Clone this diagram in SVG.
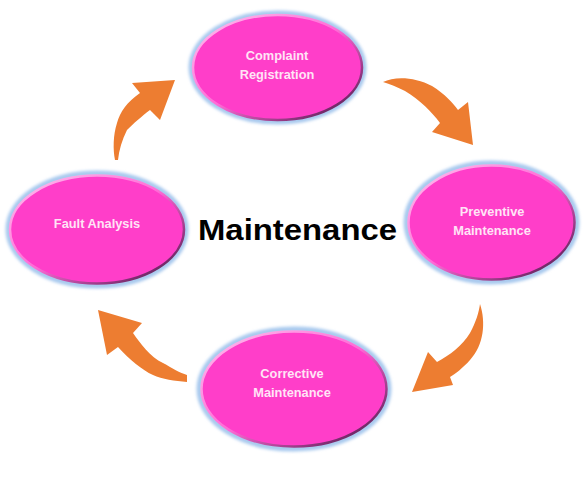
<svg xmlns="http://www.w3.org/2000/svg" width="584" height="481" viewBox="0 0 584 481">
<style>
.glow{fill:none;stroke:#a8c9ee;stroke-width:6;filter:url(#blur)}
.body{fill:#ff3ec9;stroke:url(#rim);stroke-width:2.5}
.lbl{font-family:"Liberation Sans",Arial,sans-serif;font-weight:bold;font-size:12.8px;fill:#ffe4f6;text-anchor:middle}
.arrow{fill:#ed7d31}
.title{font-family:"Liberation Sans",Arial,sans-serif;font-weight:bold;font-size:29px;fill:#000;text-anchor:middle}
</style>
<defs>
<filter id="blur" x="-20%" y="-20%" width="140%" height="140%"><feGaussianBlur stdDeviation="1.6"/></filter>
<linearGradient id="rim" x1="0" y1="0" x2="1" y2="1">
<stop offset="0" stop-color="#ffc4f0"/>
<stop offset="0.5" stop-color="#ff6ad6"/>
<stop offset="1" stop-color="#3a0f3c"/>
</linearGradient>
</defs>
<rect width="584" height="481" fill="#ffffff"/>
<g id="connectors">
<path class="arrow" d="M383,82 C395,76 415,77 432,86 C445,94 453,103 458,110 L468,102 L473,145 L432,132 L440,123 C432,112 420,100 405,91 C397,87 390,84 383,82 Z"/>
<path class="arrow" d="M480,304 C486,322 484,345 470,360 C463,368 455,374 450,377 L453,385 L412,392 L428,352 L437,362 C450,355 462,346 470,333 C476,322 479,312 480,304 Z"/>
<path class="arrow" d="M98,310 L142,323 L133,333 C140,343 150,357 163,363 C172,368 180,373 187,375 L187,382 C175,381 162,379 153,375 C142,370 130,360 118,347 L107,355 Z"/>
<path class="arrow" d="M175,80 L160,120 L150,110 C142,116 133,124 127,130 C122,140 119,150 118,160 L115,160 C113,150 113,135 117,123 C120,112 127,102 140,93 L132,83 Z"/>
</g>
<g id="complaint">
<ellipse class="glow" cx="277.5" cy="67.5" rx="86" ry="54"/>
<ellipse class="body" cx="277.5" cy="67.5" rx="84.5" ry="52.5"/>
<text class="lbl" x="277" y="60">Complaint</text>
<text class="lbl" x="277" y="79">Registration</text>
</g>
<g id="preventive">
<ellipse class="glow" cx="491.5" cy="222.5" rx="85" ry="59"/>
<ellipse class="body" cx="491.5" cy="222.5" rx="83" ry="57"/>
<text class="lbl" x="492" y="216">Preventive</text>
<text class="lbl" x="492" y="235">Maintenance</text>
</g>
<g id="corrective">
<ellipse class="glow" cx="294" cy="389" rx="94.5" ry="59.5"/>
<ellipse class="body" cx="294" cy="389" rx="92.5" ry="57.5"/>
<text class="lbl" x="292" y="378">Corrective</text>
<text class="lbl" x="292" y="397">Maintenance</text>
</g>
<g id="fault">
<ellipse class="glow" cx="97" cy="229.5" rx="88.5" ry="56"/>
<ellipse class="body" cx="97" cy="229.5" rx="87" ry="54"/>
<text class="lbl" x="97" y="228">Fault Analysis</text>
</g>
<g id="center">
<text class="title" x="297.5" y="240" textLength="199" lengthAdjust="spacingAndGlyphs">Maintenance</text>
</g>
</svg>
